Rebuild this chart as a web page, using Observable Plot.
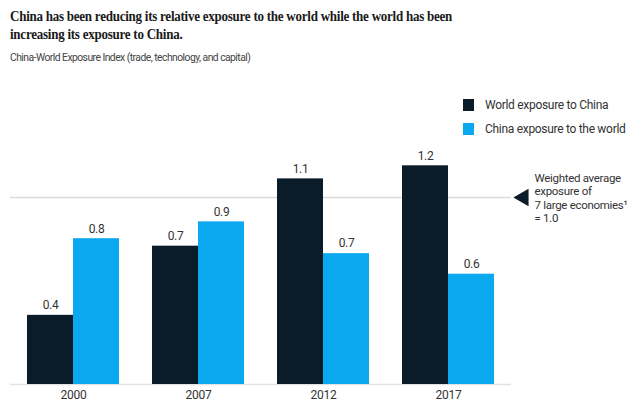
<!DOCTYPE html>
<html>
<head>
<meta charset="utf-8">
<script src="https://cdn.jsdelivr.net/npm/d3@7"></script>
<script src="https://cdn.jsdelivr.net/npm/@observablehq/plot@0.6"></script>
<style>
  html, body { margin: 0; padding: 0; background: #fff; }
  #wrap { position: relative; width: 641px; height: 410px; overflow: hidden; font-family: Roboto, "Liberation Sans", sans-serif; }
  #title { position: absolute; left: 10px; top: 7px; width: 720px; font-family: "Liberation Serif", serif; font-weight: bold; font-size: 15.5px; line-height: 18px; color: #1a1a1a; letter-spacing: -0.3px; transform: scaleX(0.84); transform-origin: 0 0; white-space: nowrap; }
  #subtitle { position: absolute; left: 10px; top: 50px; font-size: 11.5px; color: #444; letter-spacing: -0.6px; transform: scaleX(0.9); transform-origin: 0 0; white-space: nowrap; }
  #chart { position: absolute; left: 0; top: 70px; }
  #legend { position: absolute; left: 463px; top: 99px; font-size: 12px; color: #333; letter-spacing: -0.3px; }
  .li { display: flex; align-items: center; height: 12px; margin-bottom: 12px; white-space: nowrap; }
  .sw { width: 11px; height: 12px; margin-right: 11px; }
</style>
</head>
<body>
<div id="wrap">
  <div id="title">China has been reducing its relative exposure to the world while the world has been<br>increasing its exposure to China.</div>
  <div id="subtitle">China-World Exposure Index (trade, technology, and capital)</div>
  <div id="chart"></div>
  <div id="legend"></div>
</div>
<script>
const years = ["2000", "2007", "2012", "2017"];
const seriesNames = ["World exposure to China", "China exposure to the world"];
const worldToChina = [0.37, 0.74, 1.10, 1.17];
const chinaToWorld = [0.78, 0.87, 0.70, 0.59];
const colors = ["#0a1b2a", "#0aa8ee"];
const referenceValue = 1.0;
const referenceNote = "Weighted average\nexposure of\n7 large economies\u00b9\n= 1.0";

const data = [];
years.forEach((yr, i) => {
  data.push({year: yr, series: seriesNames[0], value: worldToChina[i]});
  data.push({year: yr, series: seriesNames[1], value: chinaToWorld[i]});
});
const refAnno = [{year: years[years.length - 1], value: referenceValue}];
const fmt = d3.format(".1f");

const chart = Plot.plot({
  width: 641,
  height: 340,
  marginLeft: 10,
  marginRight: 131,
  marginTop: 71,
  marginBottom: 26,
  style: {fontFamily: "Roboto, 'Liberation Sans', sans-serif", fontSize: "12px", color: "#333", background: "transparent", letterSpacing: "-0.3px"},
  fx: {domain: years, paddingInner: 0.268, paddingOuter: 0.13, label: null, tickSize: 0, tickPadding: 6, axis: "bottom"},
  x: {domain: seriesNames, padding: 0, axis: null},
  y: {domain: [0, 1.3], axis: null},
  color: {domain: seriesNames, range: colors},
  marks: [
    Plot.ruleY([0], {stroke: "#e2e2e2", strokeWidth: 1.5, insetLeft: -17, insetRight: -17}),
    Plot.ruleY([referenceValue], {stroke: "#dcdcdc", strokeWidth: 1.5, insetLeft: -17, insetRight: -17}),
    Plot.barY(data, {fx: "year", x: "series", y: "value", fill: "series"}),
    Plot.text(data, {fx: "year", x: "series", y: "value", text: d => fmt(d.value), dy: -10, fill: "#333", fontSize: 12}),
    Plot.dot(refAnno, {fx: "year", y: "value", frameAnchor: "right", dx: 29, symbol: "triangle", rotate: -90, r: 6.5, fill: "#0a1b2a", stroke: "none"}),
    Plot.text(refAnno, {fx: "year", y: "value", frameAnchor: "right", dx: 40, text: () => referenceNote, textAnchor: "start", lineHeight: 1.17, fill: "#333", fontSize: 11.5})
  ]
});
document.getElementById("chart").appendChild(chart);

const legend = document.getElementById("legend");
seriesNames.forEach((s, i) => {
  const row = document.createElement("div");
  row.className = "li";
  const sw = document.createElement("div");
  sw.className = "sw";
  sw.style.background = colors[i];
  const t = document.createElement("span");
  t.textContent = s;
  row.appendChild(sw);
  row.appendChild(t);
  legend.appendChild(row);
});
</script>
</body>
</html>
